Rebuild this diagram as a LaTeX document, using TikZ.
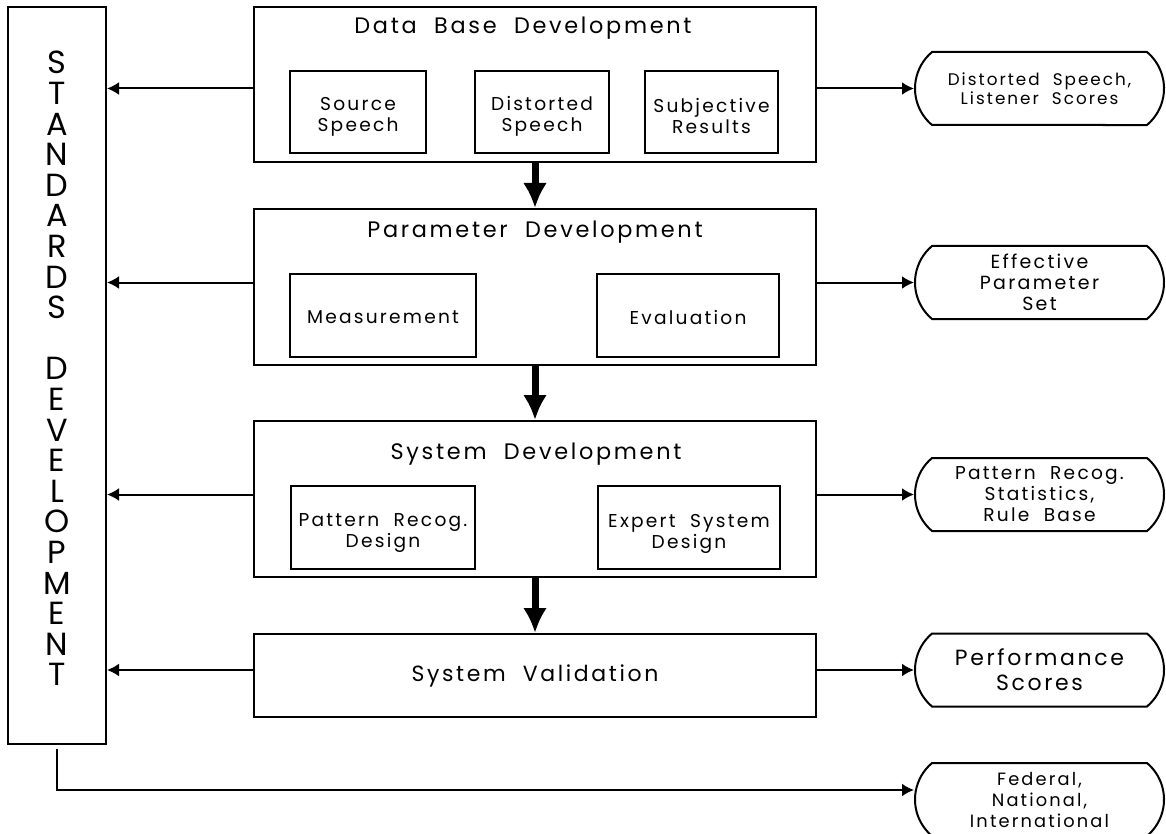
\documentclass[tikz,border=0pt]{standalone}
\usepackage{fontspec}
\setmainfont{Poppins}[LetterSpace=12,WordSpace=2]
\newfontfamily\stdfont{Poppins}
\usetikzlibrary{arrows.meta,shapes.misc}
\begin{document}
\begin{tikzpicture}[x=0.5pt,y=-0.5pt,
  mainbox/.style={draw,line width=1pt,inner sep=0pt},
  subbox/.style={draw,line width=0.75pt,inner sep=0pt},
  subtxt/.style={inner sep=0pt,align=center,font=\fontsize{9.3}{10.5}\selectfont},
  ttl/.style={inner sep=0pt,font=\fontsize{11.2}{13}\selectfont},
  term/.style={draw,line width=1pt,rounded rectangle,rounded rectangle arc length=100,
    minimum width=124.5pt,minimum height=36.5pt,inner sep=0pt,align=center,
    font=\fontsize{8.9}{10.5}\selectfont},
  harr/.style={line width=1pt,-{Latex[length=6pt,width=6.5pt]}},
  varr/.style={line width=3.5pt,-{Latex[length=12.5pt,width=12pt]}}]
\useasboundingbox (0,0) rectangle (1166,834);
% standards column
\node[mainbox,minimum width=49pt,minimum height=368.5pt] (std) at (57,375.5) {};
\node[inner sep=0pt,align=center,font=\stdfont\fontsize{16}{15.3}\selectfont] (stdt) at (57,368.5)
  {S\\T\\A\\N\\D\\A\\R\\D\\S\\[15.3pt]D\\E\\V\\E\\L\\O\\P\\M\\E\\N\\T};
% data base development
\node[mainbox,minimum width=281pt,minimum height=77.5pt] (db) at (535,84.5) {};
\node[ttl,anchor=base] (dbt) at (523,34) {Data Base Development};
\node[subbox,minimum width=68pt,minimum height=41pt] (src) at (358,112) {};
\node[subbox,minimum width=67pt,minimum height=41pt] (dis) at (542,112) {};
\node[subbox,minimum width=66.5pt,minimum height=41pt] (subj) at (711.5,112) {};
\node[subtxt] (srct) at (358,116.5) {Source\\Speech};
\node[subtxt] (dist) at (542,116.5) {Distorted\\Speech};
\node[subtxt] (subjt) at (711.5,116.5) {Subjective\\Results};
% parameter development
\node[mainbox,minimum width=281pt,minimum height=78pt] (pd) at (535,287) {};
\node[ttl,anchor=base] (pdt) at (535,238) {Parameter Development};
\node[subbox,minimum width=93pt,minimum height=41.5pt] (meas) at (383,315.5) {};
\node[subbox,minimum width=91pt,minimum height=41.5pt] (eval) at (688,315.5) {};
\node[subtxt] (meast) at (383,317.5) {Measurement};
\node[subtxt] (evalt) at (688,317.5) {Evaluation};
% system development
\node[mainbox,minimum width=281pt,minimum height=78pt] (sd) at (535,499) {};
\node[ttl,anchor=base] (sdt) at (536,459) {System Development};
\node[subbox,minimum width=92pt,minimum height=41.5pt] (pat) at (383,527.5) {};
\node[subbox,minimum width=91pt,minimum height=41.5pt] (exp) at (689,527.5) {};
\node[subtxt] (patt) at (383,533.5) {Pattern Recog.\\Design};
\node[subtxt] (expt) at (689,533.5) {Expert System\\Design};
% system validation
\node[mainbox,minimum width=281pt,minimum height=41.5pt,font=\fontsize{11}{13}\selectfont] (sv) at (535,675.5) {System Validation};
% terminals
\node[term,font=\fontsize{8.4}{8.5}\selectfont] (t1) at (1039.5,88.5) {Distorted Speech,\\Listener Scores};
\node[term,font=\fontsize{9.5}{10.5}\selectfont] (t2) at (1039.5,282.5) {Effective\\Parameter\\Set};
\node[term,font=\fontsize{9.3}{10.5}\selectfont] (t3) at (1039.5,494.5) {Pattern Recog.\\Statistics,\\Rule Base};
\node[term,font=\fontsize{11}{12.5}\selectfont] (t4) at (1039.5,670) {Performance\\Scores};
\node[term] (t5) at (1039.5,799.5) {Federal,\\National,\\International};
% vertical arrows
\draw[varr] (db.south) -- (pd.north);
\draw[varr] (pd.south) -- (sd.north);
\draw[varr] (sd.south) -- (sv.north);
% left arrows
\draw[harr] (db.west |- t1.west) -- (std.east |- t1.west);
\draw[harr] (pd.west |- t2.west) -- (std.east |- t2.west);
\draw[harr] (sd.west |- t3.west) -- (std.east |- t3.west);
\draw[harr] (sv.west |- t4.west) -- (std.east |- t4.west);
% right arrows
\draw[harr] (db.east |- t1.west) -- (t1.west);
\draw[harr] (pd.east |- t2.west) -- (t2.west);
\draw[harr] (sd.east |- t3.west) -- (t3.west);
\draw[harr] (sv.east |- t4.west) -- (t4.west);
% bottom connector
\coordinate (bend) at (57,790);
\draw[harr,shorten <=2pt] (std.south) -- (bend) -- (bend -| t5.west);
\end{tikzpicture}
\end{document}
